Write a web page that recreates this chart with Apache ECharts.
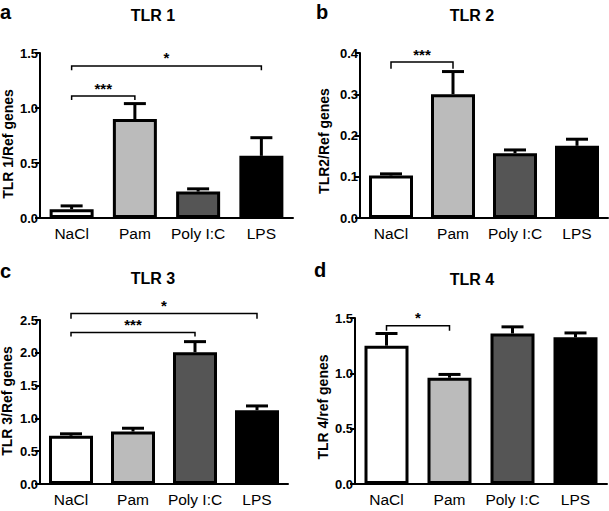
<!DOCTYPE html>
<html>
<head>
<meta charset="utf-8">
<script src="https://cdn.jsdelivr.net/npm/echarts@6/dist/echarts.min.js"></script>
<style>html,body{margin:0;padding:0;background:#fff}#c{width:609px;height:511px}</style>
</head>
<body>
<div id="c"></div>
<script>
// ---- data ----
const categories = ['NaCl', 'Pam', 'Poly I:C', 'LPS'];
const barColors = ['#ffffff', '#bbbbbb', '#555555', '#000000'];

const tlr1Mean = [0.08, 0.90, 0.24, 0.565];
const tlr1Sem  = [0.03, 0.14, 0.025, 0.165];
const tlr2Mean = [0.103, 0.300, 0.157, 0.175];
const tlr2Sem  = [0.004, 0.055, 0.008, 0.016];
const tlr3Mean = [0.735, 0.80, 2.01, 1.125];
const tlr3Sem  = [0.03, 0.05, 0.16, 0.065];
const tlr4Mean = [1.25, 0.96, 1.36, 1.325];
const tlr4Sem  = [0.11, 0.03, 0.06, 0.04];

// brackets: [fromIndex, toIndex, bracketY, tickBottomY]
const tlr1Brackets = [[0, 1, 1.108, 1.072], [0, 3, 1.382, 1.343]];
const tlr1Stars = ['***', '*'];
const tlr2Brackets = [[0, 1, 0.378, 0.362]];
const tlr2Stars = ['***'];
const tlr3Brackets = [[0, 2, 2.31, 2.25], [0, 3, 2.60, 2.52]];
const tlr3Stars = ['***', '*'];
const tlr4Brackets = [[0, 1, 1.43, 1.385]];
const tlr4Stars = ['*'];

const yMax = [1.5, 0.4, 2.5, 1.5];
const yStep = [0.5, 0.1, 0.5, 0.5];
const titles = ['TLR 1', 'TLR 2', 'TLR 3', 'TLR 4'];
const letters = ['a', 'b', 'c', 'd'];
const yNames = ['TLR 1/Ref genes', 'TLR2/Ref genes', 'TLR 3/Ref genes', 'TLR 4/ref genes'];

// ---- layout ----
const FONT = '"Liberation Sans", Arial, Helvetica, sans-serif';
const grids = [
  {left: 40, top: 53, width: 253, height: 165},
  {left: 360, top: 53, width: 248, height: 165},
  {left: 40, top: 320, width: 248, height: 164},
  {left: 355, top: 318, width: 252, height: 166}
];
const titlePos = [[153, 15], [472, 15], [153, 278], [472, 279]];
const letterPos = [[0, 12], [316, 12], [0, 271], [314, 270]];
const yNamePos = [[8, 144], [324, 141], [7, 401], [323, 407]];

const means = [tlr1Mean, tlr2Mean, tlr3Mean, tlr4Mean];
const sems = [tlr1Sem, tlr2Sem, tlr3Sem, tlr4Sem];
const brackets = [tlr1Brackets, tlr2Brackets, tlr3Brackets, tlr4Brackets];
const stars = [tlr1Stars, tlr2Stars, tlr3Stars, tlr4Stars];

const xAxes = [], yAxes = [], series = [], graphics = [];

for (let p = 0; p < 4; p++) {
  xAxes.push({
    type: 'category', gridIndex: p, data: categories,
    axisLine: {lineStyle: {color: '#000', width: 2}},
    axisTick: {show: false},
    axisLabel: {color: '#000', fontSize: 15.5, fontFamily: FONT, margin: 7, interval: 0}
  });
  yAxes.push({
    type: 'value', gridIndex: p, min: 0, max: yMax[p], interval: yStep[p],
    axisLine: {show: true, lineStyle: {color: '#000', width: 2}},
    axisTick: {show: true, length: 5, lineStyle: {color: '#000', width: 2}},
    axisLabel: {color: '#000', fontSize: 13, fontWeight: 'bold', fontFamily: FONT, margin: 2,
      formatter: v => v.toFixed(1)},
    splitLine: {show: false}
  });
  series.push({
    type: 'bar', xAxisIndex: p, yAxisIndex: p, barWidth: 44, z: 2,
    data: means[p].map((v, i) => ({value: v, itemStyle: {color: barColors[i]}})),
    itemStyle: {borderColor: '#000', borderWidth: 3},
    emphasis: {disabled: true}, animation: false
  });
  series.push({
    type: 'custom', xAxisIndex: p, yAxisIndex: p, z: 3, animation: false,
    encode: {x: 0, y: [1, 2]},
    data: means[p].map((v, i) => [i, v, v + sems[p][i]]),
    renderItem: function (params, api) {
      const x = api.value(0);
      const base = api.coord([x, api.value(1)]);
      const top = api.coord([x, api.value(2)]);
      const half = 11;
      return {type: 'group', children: [
        {type: 'line', shape: {x1: base[0], y1: base[1], x2: top[0], y2: top[1]}, style: {stroke: '#000', lineWidth: 3}},
        {type: 'line', shape: {x1: top[0] - half, y1: top[1], x2: top[0] + half, y2: top[1]}, style: {stroke: '#000', lineWidth: 3}}
      ]};
    }
  });
  const starLabels = stars[p];
  series.push({
    type: 'custom', xAxisIndex: p, yAxisIndex: p, z: 4, animation: false, clip: false,
    encode: {x: [0, 1], y: [2, 3]},
    data: brackets[p],
    renderItem: function (params, api) {
      const a = api.coord([api.value(0), api.value(2)]);
      const b = api.coord([api.value(1), api.value(2)]);
      const tb = api.coord([api.value(0), api.value(3)]);
      const pts = [[a[0], tb[1]], [a[0], a[1]], [b[0], b[1]], [b[0], tb[1]]];
      return {type: 'group', children: [
        {type: 'polyline', shape: {points: pts}, style: {stroke: '#000', lineWidth: 1.5, fill: null}},
        {type: 'text', x: (a[0] + b[0]) / 2, y: a[1] - 8,
          style: {text: starLabels[params.dataIndex], fill: '#000', font: 'bold 15px ' + FONT,
            align: 'center', verticalAlign: 'middle'}}
      ]};
    }
  });

  graphics.push({type: 'text', x: titlePos[p][0], y: titlePos[p][1],
    style: {text: titles[p], fill: '#000', font: 'bold 16px ' + FONT, align: 'center', verticalAlign: 'middle'}});
  graphics.push({type: 'text', x: letterPos[p][0], y: letterPos[p][1],
    style: {text: letters[p], fill: '#000', font: 'bold 20px ' + FONT, align: 'left', verticalAlign: 'middle'}});
  graphics.push({type: 'text', x: yNamePos[p][0], y: yNamePos[p][1], rotation: Math.PI / 2,
    style: {text: yNames[p], fill: '#000', font: 'bold 14px ' + FONT, align: 'center', verticalAlign: 'middle'}});
}

const chart = echarts.init(document.getElementById('c'), null, {renderer: 'svg'});
chart.setOption({
  animation: false,
  backgroundColor: '#fff',
  grid: grids,
  xAxis: xAxes,
  yAxis: yAxes,
  series: series,
  graphic: graphics
});
</script>
</body>
</html>
